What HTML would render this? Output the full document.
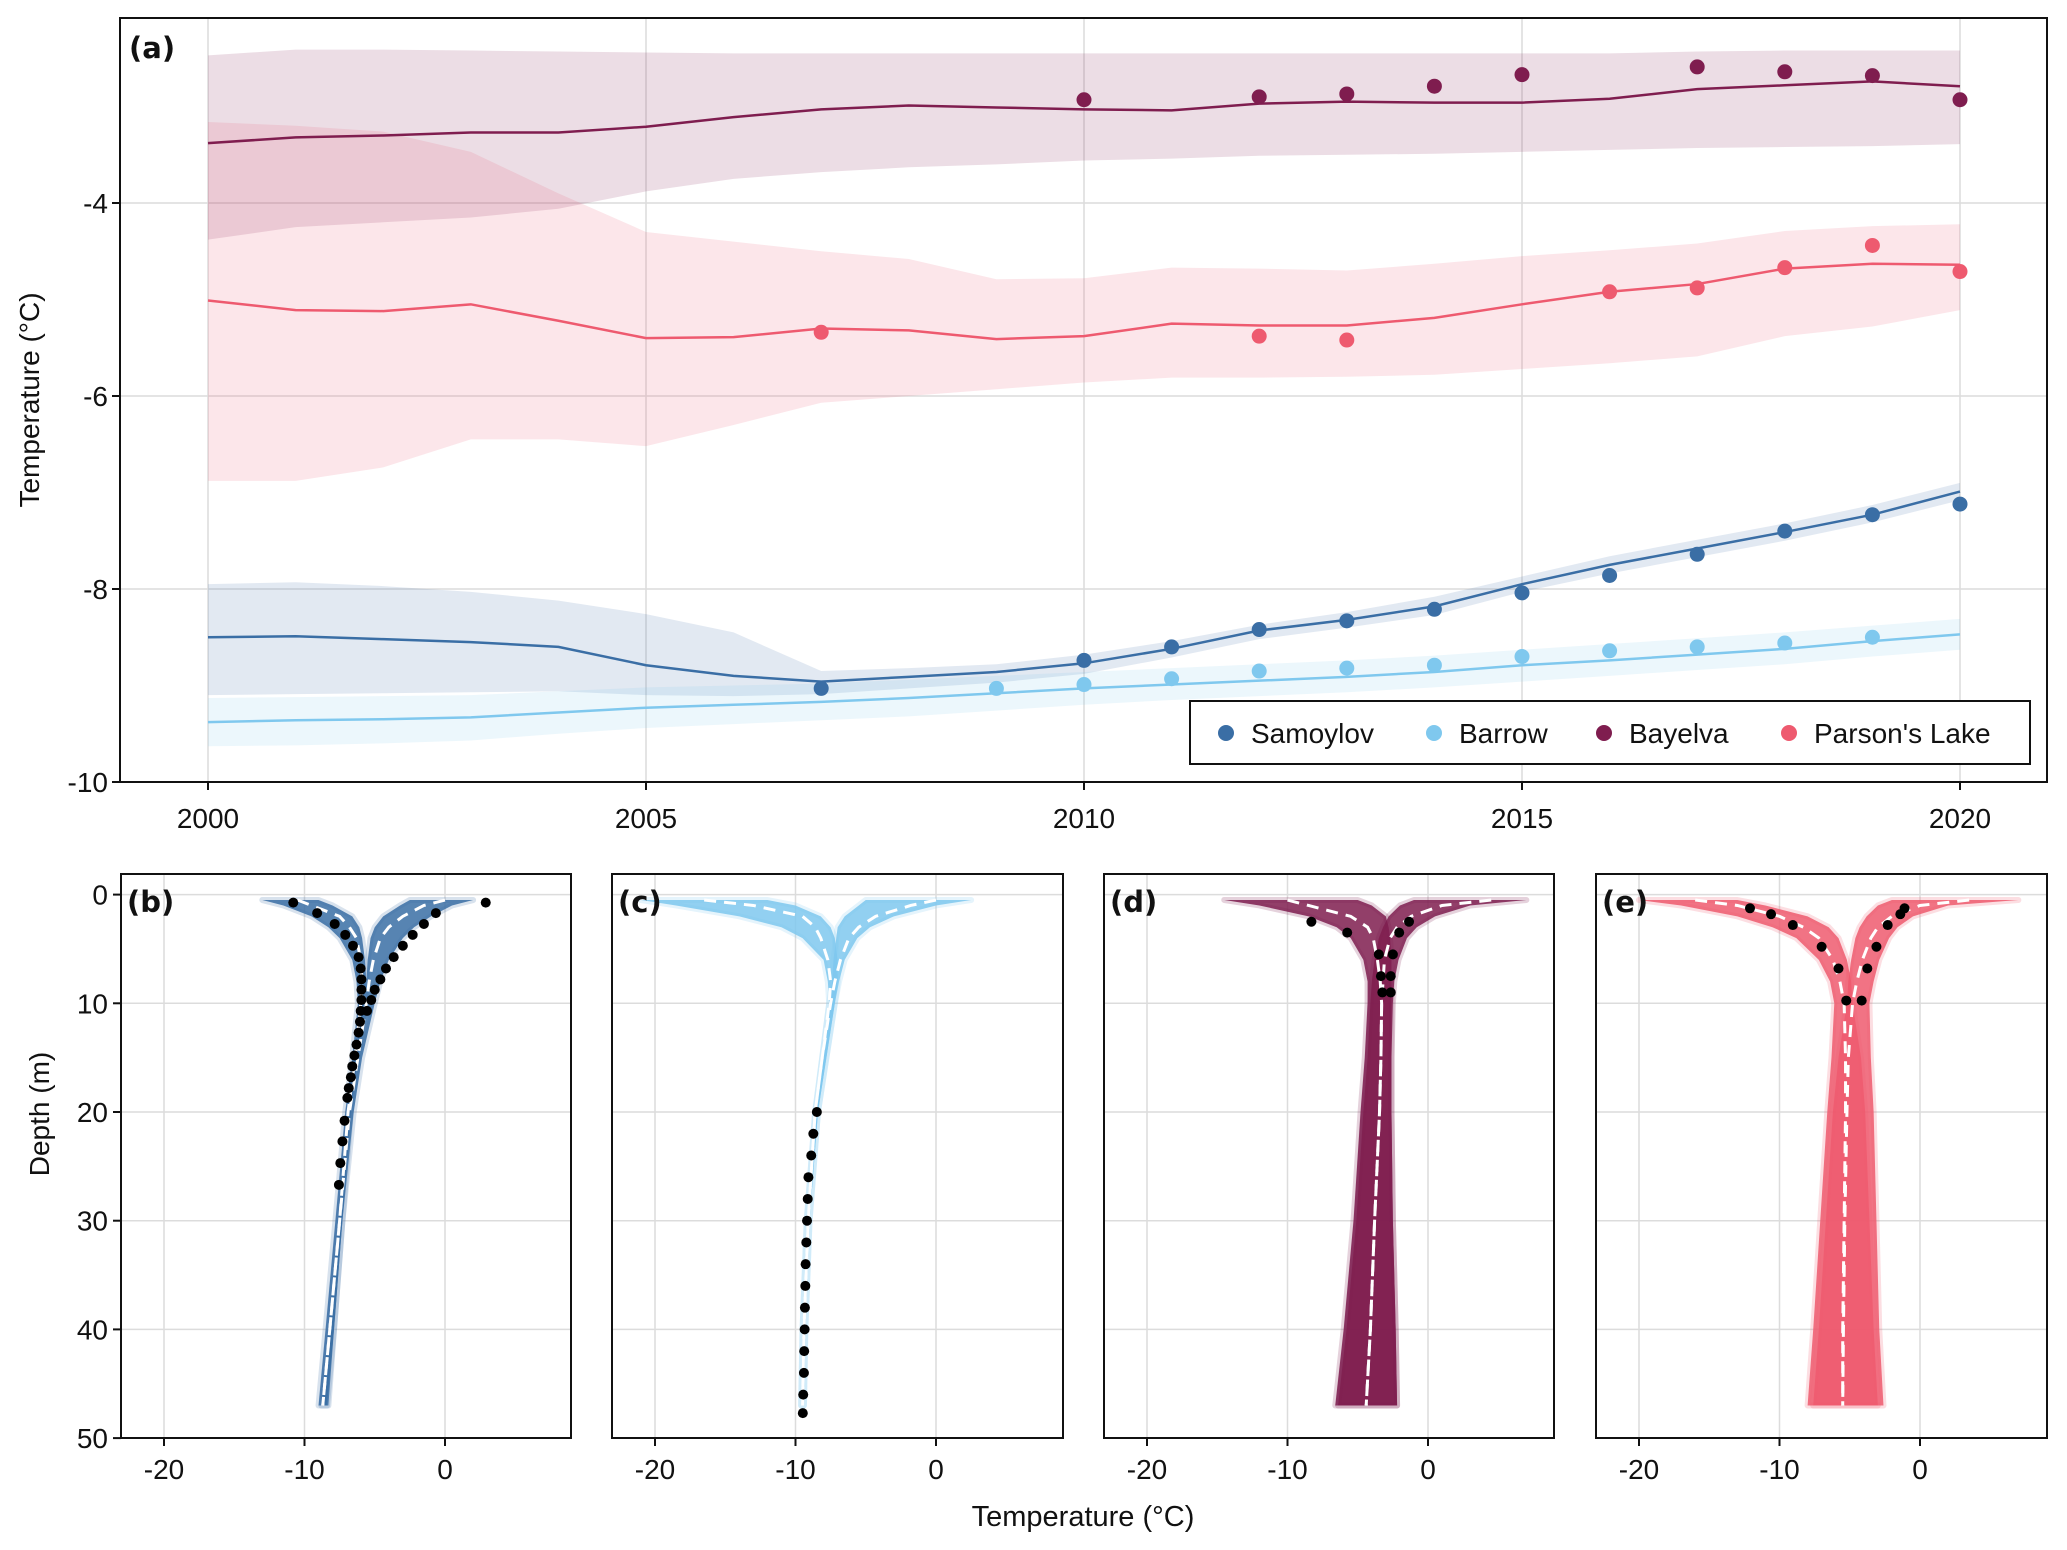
<!DOCTYPE html>
<html><head><meta charset="utf-8">
<style>
html,body{margin:0;padding:0;background:#fff;}
svg{display:block;font-family:"Liberation Sans",Arial,sans-serif;}
</style></head>
<body>
<svg id="fig" width="2067" height="1550" viewBox="0 0 2067 1550">
<defs>
<clipPath id="clipA"><rect x="120" y="18" width="1927" height="764"/></clipPath>
<clipPath id="clip0"><rect x="121" y="874" width="450" height="564"/></clipPath>
<clipPath id="clip1"><rect x="612" y="874" width="451" height="564"/></clipPath>
<clipPath id="clip2"><rect x="1104" y="874" width="450" height="564"/></clipPath>
<clipPath id="clip3"><rect x="1596" y="874" width="451" height="564"/></clipPath>
</defs>
<g id="gA"></g>
<g id="gB"></g>
</svg>
<script>
// ---------- Panel (a) data ----------
const years = [2000,2001,2002,2003,2004,2005,2006,2007,2008,2009,2010,2011,2012,2013,2014,2015,2016,2017,2018,2019,2020];
const bayelvaMean = [-3.38,-3.32,-3.30,-3.27,-3.27,-3.21,-3.11,-3.03,-2.99,-3.01,-3.03,-3.04,-2.97,-2.95,-2.96,-2.96,-2.92,-2.82,-2.78,-2.74,-2.79];
const bayelvaHi = [-2.47,-2.41,-2.41,-2.42,-2.43,-2.44,-2.45,-2.45,-2.45,-2.45,-2.45,-2.45,-2.45,-2.45,-2.45,-2.45,-2.45,-2.43,-2.42,-2.42,-2.42];
const bayelvaLo = [-4.38,-4.25,-4.20,-4.15,-4.06,-3.88,-3.75,-3.68,-3.63,-3.60,-3.56,-3.54,-3.51,-3.50,-3.49,-3.47,-3.45,-3.43,-3.42,-3.41,-3.39];
const bayelvaObsYears = [2010,2012,2013,2014,2015,2017,2018,2019,2020];
const bayelvaObs = [-2.93,-2.90,-2.87,-2.79,-2.67,-2.59,-2.64,-2.68,-2.93];

const parsonsMean = [-5.01,-5.11,-5.12,-5.05,-5.22,-5.40,-5.39,-5.30,-5.32,-5.41,-5.38,-5.25,-5.27,-5.27,-5.19,-5.05,-4.92,-4.84,-4.68,-4.63,-4.64];
const parsonsHi = [-3.16,-3.20,-3.26,-3.47,-3.90,-4.30,-4.40,-4.50,-4.58,-4.79,-4.78,-4.67,-4.68,-4.70,-4.63,-4.55,-4.49,-4.42,-4.29,-4.24,-4.22];
const parsonsLo = [-6.88,-6.88,-6.74,-6.45,-6.45,-6.52,-6.30,-6.07,-6.00,-5.93,-5.86,-5.81,-5.81,-5.80,-5.78,-5.72,-5.66,-5.59,-5.38,-5.28,-5.11];
const parsonsObsYears = [2007,2012,2013,2016,2017,2018,2019,2020];
const parsonsObs = [-5.34,-5.38,-5.42,-4.92,-4.88,-4.67,-4.44,-4.71];

const samoylovMean = [-8.50,-8.49,-8.52,-8.55,-8.60,-8.79,-8.90,-8.96,-8.91,-8.86,-8.77,-8.62,-8.43,-8.32,-8.18,-7.95,-7.75,-7.58,-7.41,-7.23,-6.99];
const samoylovHi = [-7.95,-7.93,-7.97,-8.03,-8.12,-8.26,-8.45,-8.85,-8.82,-8.78,-8.68,-8.54,-8.37,-8.24,-8.08,-7.87,-7.66,-7.49,-7.32,-7.13,-6.90];
const samoylovLo = [-9.10,-9.09,-9.08,-9.07,-9.06,-9.10,-9.11,-9.09,-9.03,-8.97,-8.88,-8.71,-8.52,-8.40,-8.27,-8.03,-7.84,-7.67,-7.50,-7.31,-7.08];
const samoylovObsYears = [2007,2010,2011,2012,2013,2014,2015,2016,2017,2018,2019,2020];
const samoylovObs = [-9.03,-8.74,-8.60,-8.42,-8.33,-8.21,-8.04,-7.86,-7.64,-7.40,-7.23,-7.12];

const barrowMean = [-9.38,-9.36,-9.35,-9.33,-9.28,-9.23,-9.20,-9.17,-9.13,-9.08,-9.03,-8.99,-8.95,-8.91,-8.86,-8.79,-8.74,-8.68,-8.62,-8.54,-8.47];
const barrowHi = [-9.13,-9.12,-9.11,-9.10,-9.06,-9.02,-9.00,-8.98,-8.94,-8.90,-8.86,-8.82,-8.78,-8.74,-8.69,-8.63,-8.57,-8.51,-8.45,-8.38,-8.31];
const barrowLo = [-9.63,-9.62,-9.60,-9.57,-9.50,-9.44,-9.40,-9.36,-9.32,-9.26,-9.20,-9.15,-9.11,-9.07,-9.02,-8.96,-8.90,-8.84,-8.78,-8.70,-8.63];
const barrowObsYears = [2009,2010,2011,2012,2013,2014,2015,2016,2017,2018,2019];
const barrowObs = [-9.03,-8.99,-8.93,-8.85,-8.82,-8.79,-8.70,-8.64,-8.60,-8.56,-8.50];

const yTicksA = [-4,-6,-8,-10];
const xTicksA = [2000,2005,2010,2015,2020];

// ---------- Profile data ----------
const depths = [0.5,1,2,3,4,6,8,10,15,20,30,40,47];
const samMinLo = [-13,-11.5,-9.5,-8.3,-7.5,-6.6,-6.3,-6.2,-6.6,-7.1,-7.8,-8.5,-9.0];
const samMinHi = [-9,-8,-6.6,-6.1,-5.9,-5.7,-5.6,-5.7,-6.2,-6.7,-7.3,-7.9,-8.4];
const samMaxLo = [-2.5,-3.2,-4.4,-5.0,-5.3,-5.5,-5.6,-5.7,-6.4,-6.9,-7.6,-8.3,-8.8];
const samMaxHi = [2,0.5,-1,-2.2,-3,-4,-4.6,-5.0,-5.9,-6.5,-7.3,-7.9,-8.3];
const samMeanMin = [-10.5,-9.5,-7.5,-6.8,-6.3,-6.0,-5.9,-6.0,-6.4,-6.9,-7.5,-8.2,-8.7];
const samMeanMax = [0,-1.5,-3,-4,-4.6,-5.1,-5.4,-5.6,-6.2,-6.8,-7.5,-8.2,-8.7];
const samObsDepth = [0.74,1.7,2.7,3.7,4.7,5.75,6.8,7.8,8.75,9.7,10.7,11.7,12.7,13.8,14.8,15.8,16.8,17.8,18.7,20.8,22.7,24.7,26.7,0.74,1.7,2.7,3.7,4.7,5.75,6.8,7.8,8.75,9.7,10.7];
const samObsTemp = [-10.8,-9.1,-7.85,-7.1,-6.55,-6.15,-6.0,-5.95,-5.95,-5.95,-6.0,-6.05,-6.15,-6.3,-6.45,-6.6,-6.7,-6.85,-6.95,-7.15,-7.3,-7.45,-7.55,2.9,-0.65,-1.5,-2.3,-3.0,-3.65,-4.2,-4.6,-5.0,-5.25,-5.55];
const barMinLo = [-21,-18.5,-14,-11,-9.5,-8.0,-7.7,-7.6,-8.1,-8.6,-9.2,-9.5,-9.6];
const barMinHi = [-12,-10,-8.2,-7.5,-7.2,-7.0,-7.0,-7.2,-7.8,-8.4,-9.0,-9.3,-9.4];
const barMaxLo = [-5,-5.5,-6.5,-7.0,-7.1,-7.3,-7.4,-7.6,-8.1,-8.6,-9.2,-9.5,-9.6];
const barMaxHi = [2.5,0,-3,-4.7,-5.6,-6.5,-6.9,-7.2,-7.8,-8.4,-9.0,-9.3,-9.4];
const barMeanMin = [-16.5,-13,-9.5,-8.6,-8.2,-7.7,-7.5,-7.6,-8.1,-8.6,-9.1,-9.4,-9.5];
const barMeanMax = [0,-1.8,-4.3,-5.5,-6.2,-6.8,-7.2,-7.5,-8.1,-8.6,-9.1,-9.4,-9.5];
const barObsDepth = [20,22,24,26,28,30,32,34,36,38,40,42,44,46,47.7];
const barObsTemp = [-8.48,-8.73,-8.88,-9.08,-9.13,-9.18,-9.23,-9.28,-9.3,-9.33,-9.35,-9.38,-9.4,-9.45,-9.48];
const bayMinLo = [-14.5,-12,-8.5,-6.5,-5.5,-4.6,-4.3,-4.3,-4.5,-4.8,-5.3,-6.0,-6.6];
const bayMinHi = [-5,-4,-3,-2.8,-2.7,-2.6,-2.6,-2.6,-2.6,-2.6,-2.5,-2.3,-2.2];
const bayMaxLo = [-1,-2,-2.8,-3.2,-3.5,-3.8,-4.0,-4.1,-4.3,-4.6,-5.1,-5.8,-6.4];
const bayMaxHi = [7,3,0.5,-0.8,-1.5,-2.1,-2.4,-2.5,-2.6,-2.6,-2.5,-2.3,-2.2];
const bayMeanMin = [-10,-8.5,-5.5,-4.3,-3.9,-3.6,-3.4,-3.3,-3.35,-3.45,-3.8,-4.1,-4.4];
const bayMeanMax = [4.5,1,-1.2,-2.2,-2.7,-3.1,-3.2,-3.3,-3.35,-3.45,-3.8,-4.1,-4.4];
const bayObsDepth = [2.5,3.5,5.5,7.5,9,2.5,3.5,5.5,7.5,9];
const bayObsTemp = [-8.3,-5.75,-3.5,-3.35,-3.25,-1.35,-2.05,-2.5,-2.65,-2.65];
const parMinLo = [-20,-17,-13,-10.5,-8.8,-7.2,-6.4,-6.1,-6.3,-6.6,-7.1,-7.6,-8.0];
const parMinHi = [-13,-11,-8,-6.5,-5.8,-5.2,-4.9,-4.8,-4.2,-3.9,-3.6,-3.3,-3.0];
const parMaxLo = [-2,-3,-3.8,-4.3,-4.6,-4.9,-5.1,-5.2,-5.8,-6.2,-6.7,-7.2,-7.6];
const parMaxHi = [7,2,-0.5,-1.6,-2.2,-2.9,-3.3,-3.6,-3.5,-3.3,-3.1,-2.9,-2.6];
const parMeanMin = [-16,-13,-10,-8.3,-7.2,-6.2,-5.7,-5.4,-5.3,-5.3,-5.4,-5.5,-5.5];
const parMeanMax = [3.5,0,-2,-3,-3.5,-4.1,-4.5,-4.8,-5.1,-5.2,-5.35,-5.45,-5.5];
const parObsDepth = [1.26,1.8,2.8,4.8,6.8,9.75,1.26,1.8,2.8,4.8,6.8,9.75];
const parObsTemp = [-12.1,-10.6,-9.05,-7.0,-5.8,-5.25,-1.1,-1.4,-2.3,-3.1,-3.75,-4.15];

const xTicksB = [-20,-10,0];
const yTicksB = [0,10,20,30,40,50];

const C_SAM = '#3a6ea5', C_BAR = '#7fc8ee', C_BAY = '#7f1d4f', C_PAR = '#ee5a6f';
const FS = 28;
const NS = 'http://www.w3.org/2000/svg';
function mk(tag, attrs, parent){const e=document.createElementNS(NS,tag);for(const k in attrs)e.setAttribute(k,attrs[k]);parent.appendChild(e);return e;}

// ---------- Panel (a) ----------
const gA = document.getElementById('gA');
const xA = yr => 208 + (yr-2000)*87.6;
const yA = v => 203 + (-4 - v)*96.5;
xTicksA.forEach(t=>{
  const l=mk('line',{x1:xA(t),x2:xA(t),y1:18,y2:782,stroke:'#dcdcdc','stroke-width':1.5},gA);
  
  
});
yTicksA.forEach(t=>{
  const l=mk('line',{x1:120,x2:2047,y1:yA(t),y2:yA(t),stroke:'#dcdcdc','stroke-width':1.5},gA);
  
  
});
const gAc = mk('g',{'clip-path':'url(#clipA)'},gA);
function bandA(lo,hi,color,op,name){
  let d='M'+years.map((y,i)=>xA(y)+','+yA(hi[i])).join('L');
  d+='L'+years.slice().reverse().map((y,j)=>{const i=years.length-1-j;return xA(y)+','+yA(lo[i]);}).join('L')+'Z';
  const p=mk('path',{d:d,fill:color,'fill-opacity':op},gAc);
  
  
}
function lineA(vals,color,name){
  const p=mk('polyline',{points:years.map((y,i)=>xA(y)+','+yA(vals[i])).join(' '),fill:'none',stroke:color,'stroke-width':2.5},gAc);
  
  
}
function ptsA(ys,vs,color,name){
  ys.forEach((y,i)=>{
    const c=mk('circle',{cx:xA(y),cy:yA(vs[i]),r:7.5,fill:color},gAc);
    
    
  });
}
bandA(bayelvaLo,bayelvaHi,C_BAY,0.15,'bayelva-band');
bandA(parsonsLo,parsonsHi,C_PAR,0.15,'parsons-band');
bandA(samoylovLo,samoylovHi,C_SAM,0.15,'samoylov-band');
bandA(barrowLo,barrowHi,C_BAR,0.15,'barrow-band');
lineA(bayelvaMean,C_BAY,'bayelva-line');
lineA(parsonsMean,C_PAR,'parsons-line');
lineA(samoylovMean,C_SAM,'samoylov-line');
lineA(barrowMean,C_BAR,'barrow-line');
ptsA(bayelvaObsYears,bayelvaObs,C_BAY,'bayelva-point');
ptsA(parsonsObsYears,parsonsObs,C_PAR,'parsons-point');
ptsA(samoylovObsYears,samoylovObs,C_SAM,'samoylov-point');
ptsA(barrowObsYears,barrowObs,C_BAR,'barrow-point');
const fa=mk('rect',{x:120,y:18,width:1927,height:764,fill:'none',stroke:'#111','stroke-width':2},gA);


yTicksA.forEach(t=>{
  mk('line',{x1:112,x2:120,y1:yA(t),y2:yA(t),stroke:'#111','stroke-width':2},gA);
  const tx=mk('text',{x:108,y:yA(t)+10,'text-anchor':'end','font-size':FS,fill:'#111'},gA);
  tx.textContent=String(t);
  
  
});
xTicksA.forEach(t=>{
  mk('line',{x1:xA(t),x2:xA(t),y1:782,y2:790,stroke:'#111','stroke-width':2},gA);
  const tx=mk('text',{x:xA(t),y:828,'text-anchor':'middle','font-size':FS,fill:'#111'},gA);
  tx.textContent=String(t);
  
  
});
const ya=mk('text',{x:0,y:0,transform:'translate(39,400) rotate(-90)','text-anchor':'middle','font-size':28,fill:'#111'},gA);
ya.textContent='Temperature (°C)';


const la=mk('text',{x:129,y:58,'font-size':29,'font-weight':'bold',fill:'#111','font-family':'DejaVu Sans, sans-serif'},gA);
la.textContent='(a)';


const lg=mk('g',{},gA);


mk('rect',{x:1190,y:701,width:840,height:63,fill:'#fff',stroke:'#111','stroke-width':2},lg);
const legNames=['Samoylov','Barrow','Bayelva',"Parson's Lake"];
const legColors=[C_SAM,C_BAR,C_BAY,C_PAR];
const legX=[1226,1434,1604,1789];
legNames.forEach((n,i)=>{
  const g=mk('g',{},lg);
  
  
  mk('circle',{cx:legX[i],cy:733,r:8,fill:legColors[i]},g);
  const t=mk('text',{x:legX[i]+25,y:743,'font-size':28,fill:'#111'},g);
  t.textContent=n;
});

// ---------- Profile panels ----------
const gB=document.getElementById('gB');
const L=[121,612,1104,1596];
const W=[450,451,450,451];
const TOP=874, BOT=1438;
const yB = d => 894.6 + d*10.87;
const panels=[
 {lab:'(b)',c:C_SAM,minLo:samMinLo,minHi:samMinHi,maxLo:samMaxLo,maxHi:samMaxHi,mMin:samMeanMin,mMax:samMeanMax,od:samObsDepth,ot:samObsTemp,name:'samoylov'},
 {lab:'(c)',c:C_BAR,minLo:barMinLo,minHi:barMinHi,maxLo:barMaxLo,maxHi:barMaxHi,mMin:barMeanMin,mMax:barMeanMax,od:barObsDepth,ot:barObsTemp,name:'barrow'},
 {lab:'(d)',c:C_BAY,minLo:bayMinLo,minHi:bayMinHi,maxLo:bayMaxLo,maxHi:bayMaxHi,mMin:bayMeanMin,mMax:bayMeanMax,od:bayObsDepth,ot:bayObsTemp,name:'bayelva'},
 {lab:'(e)',c:C_PAR,minLo:parMinLo,minHi:parMinHi,maxLo:parMaxLo,maxHi:parMaxHi,mMin:parMeanMin,mMax:parMeanMax,od:parObsDepth,ot:parObsTemp,name:'parsons'}
];
panels.forEach((P,k)=>{
  const xB = t => L[k] + 43 + (t+20)*14.05;
  const g=mk('g',{},gB);
  
  
  xTicksB.forEach(t=>{
    const l=mk('line',{x1:xB(t),x2:xB(t),y1:TOP,y2:BOT,stroke:'#dcdcdc','stroke-width':1.5},g);
    
    
  });
  yTicksB.forEach(t=>{
    const l=mk('line',{x1:L[k],x2:L[k]+W[k],y1:yB(t),y2:yB(t),stroke:'#dcdcdc','stroke-width':1.5},g);
    
    
  });
  const gc=mk('g',{'clip-path':'url(#clip'+k+')'},g);
  function band(lo,hi,op,name){
    let d='M'+depths.map((z,i)=>xB(hi[i])+','+yB(z)).join('L');
    d+='L'+depths.slice().reverse().map((z,j)=>{const i=depths.length-1-j;return xB(lo[i])+','+yB(z);}).join('L')+'Z';
    const p=mk('path',{d:d,fill:P.c,'fill-opacity':op,stroke:P.c,'stroke-opacity':0.2,'stroke-width':6,'stroke-linejoin':'round'},gc);
    
    
  }
  band(P.minLo,P.minHi,0.85,'min-ensemble-band');
  band(P.maxLo,P.maxHi,0.85,'max-ensemble-band');
  function mean(v,name){
    const p=mk('polyline',{points:depths.map((z,i)=>xB(v[i])+','+yB(z)).join(' '),fill:'none',stroke:'#fff','stroke-width':3,'stroke-dasharray':'12,8'},gc);
    
    
  }
  mean(P.mMin,'mean-min-profile');
  mean(P.mMax,'mean-max-profile');
  P.od.forEach((z,i)=>{
    const c=mk('circle',{cx:xB(P.ot[i]),cy:yB(z),r:5,fill:'#000'},gc);
    
    
  });
  const fr=mk('rect',{x:L[k],y:TOP,width:W[k],height:BOT-TOP,fill:'none',stroke:'#111','stroke-width':2},g);
  
  
  xTicksB.forEach(t=>{
    mk('line',{x1:xB(t),x2:xB(t),y1:BOT,y2:BOT+8,stroke:'#111','stroke-width':2},g);
    const tx=mk('text',{x:xB(t),y:1479,'text-anchor':'middle','font-size':FS,fill:'#111'},g);
    tx.textContent=String(t);
    
    
  });
  const lb=mk('text',{x:L[k]+6,y:912,'font-size':29,'font-weight':'bold',fill:'#111','font-family':'DejaVu Sans, sans-serif'},g);
  lb.textContent=P.lab;
  
  
});
yTicksB.forEach(t=>{
  mk('line',{x1:113,x2:121,y1:yB(t),y2:yB(t),stroke:'#111','stroke-width':2},gB);
  const tx=mk('text',{x:108,y:yB(t)+10,'text-anchor':'end','font-size':FS,fill:'#111'},gB);
  tx.textContent=String(t);
  
  
});
const yt=mk('text',{x:0,y:0,transform:'translate(49,1114) rotate(-90)','text-anchor':'middle','font-size':28,fill:'#111'},gB);
yt.textContent='Depth (m)';


const xt=mk('text',{x:1083,y:1526,'text-anchor':'middle','font-size':29,fill:'#111'},gB);
xt.textContent='Temperature (°C)';


</script>
</body></html>
